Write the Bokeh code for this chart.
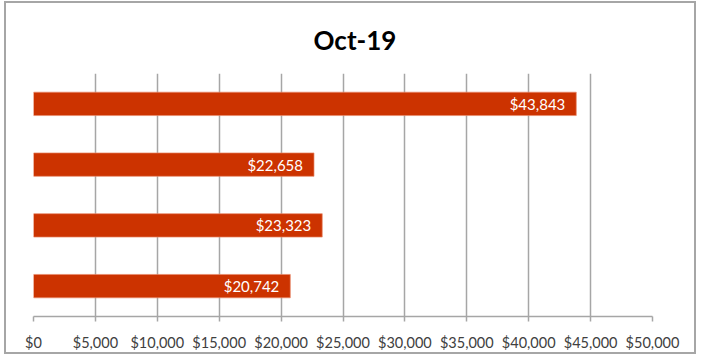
from bokeh.plotting import figure
from bokeh.models import ColumnDataSource, FactorRange, NumeralTickFormatter, FixedTicker
from bokeh.core.properties import value
from bokeh.embed import file_html
from bokeh.resources import INLINE

# Data (top to bottom as in the chart)
categories = ["Item 1", "Item 2", "Item 3", "Item 4"]
amounts = [43843, 22658, 23323, 20742]
labels = ["$43,843", "$22,658", "$23,323", "$20,742"]
x_ticks = [0, 5000, 10000, 15000, 20000, 25000, 30000, 35000, 40000, 45000, 50000]
title_text = "Oct-19"

src = ColumnDataSource(data=dict(cat=categories, amt=amounts, lab=labels))

p = figure(
    width=692, height=353,
    x_range=(0, 50000),
    y_range=FactorRange(factors=categories[::-1]),
    output_backend="svg", toolbar_location=None,
    min_border_left=27, min_border_right=46, min_border_top=68, min_border_bottom=40,
    styles={"border": "2px solid #a6a6a6", "margin-left": "4px", "margin-top": "1px"},
)

p.title.text = title_text
p.title.align = "left"
p.title.offset = 280
p.title.text_font = "Lato"
p.title.text_font_size = "26px"
p.title.text_font_style = "bold"
p.title.text_color = "#000000"
p.title.standoff = 36

p.outline_line_color = None
p.background_fill_color = "white"
p.border_fill_color = "white"

p.hbar(y="cat", right="amt", left=0, height=0.385, source=src,
       fill_color="#cc3300", line_color="#e8896a", line_width=0.7)

p.text(x="amt", y="cat", text="lab", source=src, x_offset=-11,
       text_align="right", text_baseline="middle",
       text_color="white", text_font=value("Lato"), text_font_size="15px")

p.xaxis.ticker = FixedTicker(ticks=x_ticks)
p.xaxis.formatter = NumeralTickFormatter(format="$0,0")
p.xaxis.axis_line_color = "#a6a6a6"
p.xaxis.axis_line_width = 1.5
p.xaxis.major_tick_line_color = "#a6a6a6"
p.xaxis.major_tick_line_width = 1.5
p.xaxis.major_tick_in = 0
p.xaxis.major_tick_out = 5
p.xaxis.minor_tick_line_color = None
p.xaxis.major_label_text_font = "Lato"
p.xaxis.major_label_text_font_size = "14.5px"
p.xaxis.major_label_text_color = "#404040"
p.xaxis.major_label_standoff = 12

p.yaxis.visible = False
p.ygrid.grid_line_color = None
p.xgrid.ticker = FixedTicker(ticks=x_ticks)
p.xgrid.grid_line_color = "#a6a6a6"
p.xgrid.grid_line_width = 1.5

open("out.html", "w").write(file_html(p, INLINE))
